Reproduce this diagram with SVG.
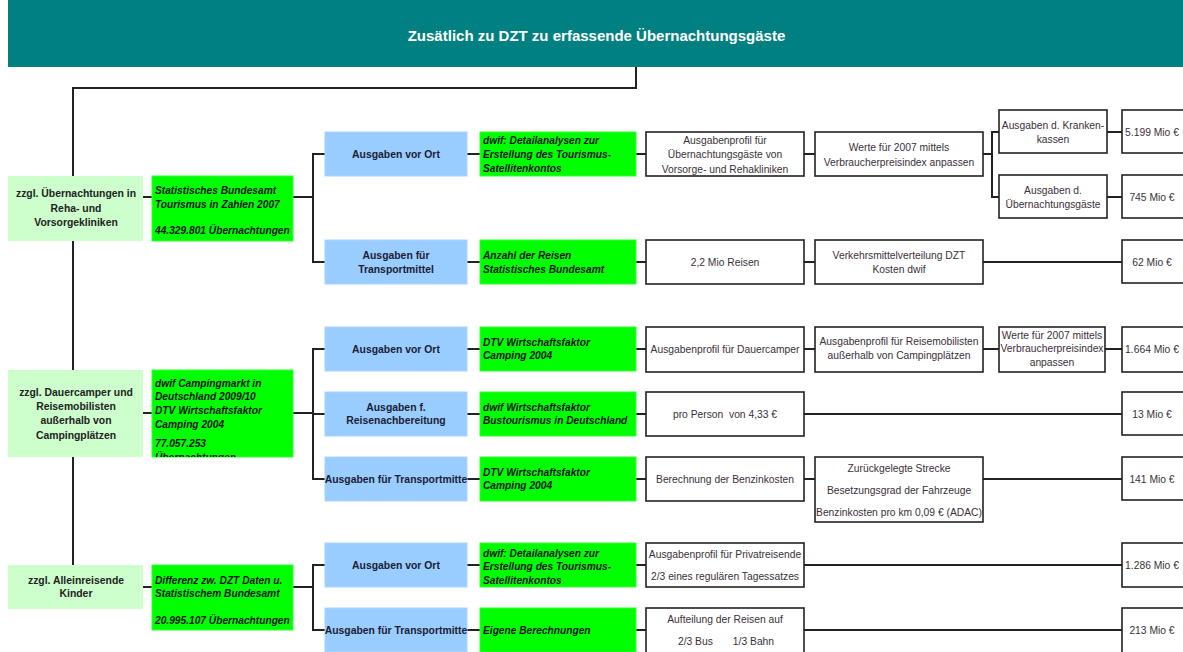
<svg xmlns="http://www.w3.org/2000/svg" width="1183" height="652" viewBox="0 0 1183 652">
<style>
text{font-family:"Liberation Sans",Arial,sans-serif}
.title{font-size:15px;font-weight:bold;fill:#ffffff;text-anchor:middle}
.ln rect{fill:#ccffcc}
.ln text{font-size:10.4px;font-weight:bold;fill:#222;text-anchor:middle}
.gn rect{fill:#00ff00;stroke:#33ff33;stroke-width:1}
.gn text{font-size:10.2px;font-weight:bold;font-style:italic;fill:#111}
.bl rect{fill:#99ccff;stroke:#aad4ff;stroke-width:1}
.bl text{font-size:10.4px;font-weight:bold;fill:#1c1c34;text-anchor:middle}
.wb rect{fill:#ffffff;stroke:#222;stroke-width:1.6}
.wb text{font-size:10.3px;fill:#3a2f3a;text-anchor:middle}
.con path{fill:none;stroke:#222;stroke-width:2}
</style>
<defs>
<clipPath id="cG2"><rect x="152" y="370" width="141" height="87"/></clipPath>
<clipPath id="cB5"><rect x="325" y="457" width="142" height="44"/></clipPath>
<clipPath id="cB7"><rect x="325" y="608" width="142" height="44"/></clipPath>
</defs>
<rect width="1183" height="652" fill="#ffffff"/>
<g id="title">
<rect x="8" y="0" width="1175" height="67" fill="#008080"/>
<text class="title" x="596.5" y="40.5">Zusätlich zu DZT zu erfassende Übernachtungsgäste</text>
</g>
<g id="connectors" class="con">
<path d="M636 67V88H73V565"/>
<path d="M143 197H152M143 413H152M143 587H152"/>
<path d="M293 197H313M293 413H313M293 587H313"/>
<path d="M325 154H313V262H325"/>
<path d="M325 349H313V479H325M313 414H325"/>
<path d="M325 565H313V630H325"/>
<path d="M467 154H480M467 262H480M467 349H480M467 414H480M467 479H480M467 565H480M467 630H480"/>
<path d="M636 154H646M636 262H646M636 349H646M636 414H646M636 479H646M636 565H646M636 630H646"/>
<path d="M804 154H815M983 154H992M999 132H992V197H999M1107 132H1122M1107 197H1122"/>
<path d="M804 262H815M983 262H1122"/>
<path d="M804 349H815M983 349H999M1105 349H1122"/>
<path d="M804 414H1122"/>
<path d="M804 479H815M983 479H1122"/>
<path d="M804 565H1122"/>
<path d="M804 630H1122"/>
</g>
<g id="L1" class="ln"><rect x="8" y="176" width="135" height="65"/>
<text x="76" y="197">zzgl. Übernachtungen in</text><text x="76" y="211.5">Reha- und</text><text x="76" y="226">Vorsorgekliniken</text></g>
<g id="L2" class="ln"><rect x="8" y="370" width="135" height="87"/>
<text x="76" y="396">zzgl. Dauercamper und</text><text x="76" y="410">Reisemobilisten</text><text x="76" y="424">außerhalb von</text><text x="76" y="438.5">Campingplätzen</text></g>
<g id="L3" class="ln"><rect x="8" y="565" width="135" height="44"/>
<text x="76" y="584">zzgl. Alleinreisende</text><text x="76" y="597">Kinder</text></g>
<g id="G1" class="gn"><rect x="152" y="176" width="141" height="65"/>
<text x="155" y="194">Statistisches Bundesamt</text><text x="155" y="208">Tourismus in Zahlen 2007</text><text x="155" y="234">44.329.801 Übernachtungen</text></g>
<g id="G2" class="gn"><rect x="152" y="370" width="141" height="87"/>
<g clip-path="url(#cG2)"><text x="155" y="386.5">dwif Campingmarkt in</text><text x="155" y="400">Deutschland 2009/10</text><text x="155" y="414">DTV Wirtschaftsfaktor</text><text x="155" y="428">Camping 2004</text><text x="155" y="447">77.057.253</text><text x="155" y="461">Übernachtungen</text></g></g>
<g id="G3" class="gn"><rect x="152" y="565" width="141" height="65"/>
<text x="155" y="584">Differenz zw. DZT Daten u.</text><text x="155" y="597">Statistischem Bundesamt</text><text x="155" y="624">20.995.107 Übernachtungen</text></g>
<g id="B1" class="bl"><rect x="325" y="132" width="142" height="44"/><text x="396" y="158">Ausgaben vor Ort</text></g>
<g id="B2" class="bl"><rect x="325" y="240" width="142" height="44"/><text x="396" y="259">Ausgaben für</text><text x="396" y="273">Transportmittel</text></g>
<g id="B3" class="bl"><rect x="325" y="327" width="142" height="44"/><text x="396" y="353">Ausgaben vor Ort</text></g>
<g id="B4" class="bl"><rect x="325" y="392" width="142" height="44"/><text x="396" y="410.5">Ausgaben f.</text><text x="396" y="424">Reisenachbereitung</text></g>
<g id="B5" class="bl"><rect x="325" y="457" width="142" height="44"/><text x="396" y="482.5" clip-path="url(#cB5)">Ausgaben für Transportmitte</text></g>
<g id="B6" class="bl"><rect x="325" y="543" width="142" height="44"/><text x="396" y="569">Ausgaben vor Ort</text></g>
<g id="B7" class="bl"><rect x="325" y="608" width="142" height="44"/><text x="396" y="634" clip-path="url(#cB7)">Ausgaben für Transportmitte</text></g>
<g id="S1" class="gn"><rect x="480" y="132" width="156" height="44"/><text x="483" y="144">dwif: Detailanalysen zur</text><text x="483" y="157.5">Erstellung des Tourismus-</text><text x="483" y="171.5">Satellitenkontos</text></g>
<g id="S2" class="gn"><rect x="480" y="240" width="156" height="44"/><text x="483" y="259">Anzahl der Reisen</text><text x="483" y="273">Statistisches Bundesamt</text></g>
<g id="S3" class="gn"><rect x="480" y="327" width="156" height="44"/><text x="483" y="345.5">DTV Wirtschaftsfaktor</text><text x="483" y="359">Camping 2004</text></g>
<g id="S4" class="gn"><rect x="480" y="392" width="156" height="44"/><text x="483" y="410.5">dwif Wirtschaftsfaktor</text><text x="483" y="424">Bustourismus in Deutschland</text></g>
<g id="S5" class="gn"><rect x="480" y="457" width="156" height="44"/><text x="483" y="475.5">DTV Wirtschaftsfaktor</text><text x="483" y="489">Camping 2004</text></g>
<g id="S6" class="gn"><rect x="480" y="543" width="156" height="44"/><text x="483" y="556.5">dwif: Detailanalysen zur</text><text x="483" y="570">Erstellung des Tourismus-</text><text x="483" y="583.5">Satellitenkontos</text></g>
<g id="S7" class="gn"><rect x="480" y="608" width="156" height="44"/><text x="483" y="634">Eigene Berechnungen</text></g>
<g id="W1" class="wb"><rect x="646" y="132" width="158" height="44"/><text x="725" y="143.5">Ausgabenprofil für</text><text x="725" y="158">Übernachtungsgäste von</text><text x="725" y="172.5">Vorsorge- und Rehakliniken</text></g>
<g id="W2" class="wb"><rect x="815" y="132" width="168" height="44"/><text x="899" y="151">Werte für 2007 mittels</text><text x="899" y="165.5">Verbraucherpreisindex anpassen</text></g>
<g id="W3" class="wb"><rect x="999" y="110" width="108" height="43"/><text x="1053" y="129">Ausgaben d. Kranken-</text><text x="1053" y="143">kassen</text></g>
<g id="W4" class="wb"><rect x="999" y="175" width="108" height="43"/><text x="1053" y="194">Ausgaben d.</text><text x="1053" y="208">Übernachtungsgäste</text></g>
<g id="V1" class="wb"><rect x="1122" y="110" width="70" height="43"/><text x="1152" y="135.5">5.199 Mio €</text></g>
<g id="V2" class="wb"><rect x="1122" y="175" width="70" height="43"/><text x="1152" y="200.5">745 Mio €</text></g>
<g id="W5" class="wb"><rect x="646" y="240" width="158" height="44"/><text x="725" y="265.5">2,2 Mio Reisen</text></g>
<g id="W6" class="wb"><rect x="815" y="240" width="168" height="44"/><text x="899" y="258.5">Verkehrsmittelverteilung DZT</text><text x="899" y="273">Kosten dwif</text></g>
<g id="V3" class="wb"><rect x="1122" y="240" width="70" height="43"/><text x="1152" y="265.5">62 Mio €</text></g>
<g id="W7" class="wb"><rect x="646" y="327" width="158" height="45"/><text x="725" y="353">Ausgabenprofil für Dauercamper</text></g>
<g id="W8" class="wb"><rect x="815" y="327" width="168" height="45"/><text x="899" y="345">Ausgabenprofil für Reisemobilisten</text><text x="899" y="359">außerhalb von Campingplätzen</text></g>
<g id="W9" class="wb"><rect x="999" y="327" width="106" height="45"/><text x="1052" y="338.5">Werte für 2007 mittels</text><text x="1052" y="352">Verbraucherpreisindex</text><text x="1052" y="366">anpassen</text></g>
<g id="V4" class="wb"><rect x="1122" y="327" width="70" height="45"/><text x="1152" y="353">1.664 Mio €</text></g>
<g id="W10" class="wb"><rect x="646" y="392" width="158" height="44"/><text x="725" y="417.5">pro Person&#160; von 4,33 €</text></g>
<g id="V5" class="wb"><rect x="1122" y="392" width="70" height="43"/><text x="1152" y="417.5">13 Mio €</text></g>
<g id="W11" class="wb"><rect x="646" y="457" width="158" height="44"/><text x="725" y="482.5">Berechnung der Benzinkosten</text></g>
<g id="W12" class="wb"><rect x="815" y="457" width="168" height="65"/><text x="899" y="472">Zurückgelegte Strecke</text><text x="899" y="494">Besetzungsgrad der Fahrzeuge</text><text x="899" y="516">Benzinkosten pro km 0,09 € (ADAC)</text></g>
<g id="V6" class="wb"><rect x="1122" y="457" width="70" height="43"/><text x="1152" y="482.5">141 Mio €</text></g>
<g id="W13" class="wb"><rect x="646" y="543" width="158" height="44"/><text x="725" y="558">Ausgabenprofil für Privatreisende</text><text x="725" y="580">2/3 eines regulären Tagessatzes</text></g>
<g id="V7" class="wb"><rect x="1122" y="543" width="70" height="44"/><text x="1152" y="569">1.286 Mio €</text></g>
<g id="W14" class="wb"><rect x="646" y="608" width="158" height="48"/><text x="726" y="645">2/3 Bus&#160;&#160;&#160;&#160;&#160;&#160; 1/3 Bahn</text><text x="725" y="623">Aufteilung der Reisen auf</text></g>
<g id="V8" class="wb"><rect x="1122" y="608" width="70" height="48"/><text x="1152" y="634">213 Mio €</text></g>
</svg>
